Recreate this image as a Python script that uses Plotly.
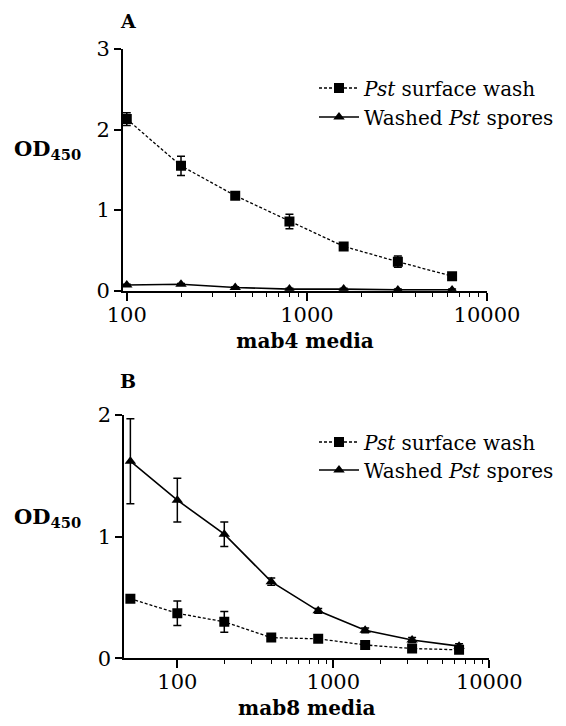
import plotly.graph_objects as go

# Dilutions of the culture media (x) and ELISA readings (OD450)
dil_a = [100, 200, 400, 800, 1600, 3200, 6400]
wash_a = [2.13, 1.55, 1.18, 0.86, 0.55, 0.36, 0.18]
wash_a_err = [0.08, 0.12, 0.03, 0.09, 0.03, 0.07, 0.02]
spores_a = [0.07, 0.08, 0.04, 0.02, 0.02, 0.01, 0.01]
spores_a_err = [0.01, 0.01, 0.01, 0.01, 0.01, 0.01, 0.01]

dil_b = [50, 100, 200, 400, 800, 1600, 3200, 6400]
wash_b = [0.49, 0.37, 0.30, 0.17, 0.16, 0.11, 0.08, 0.07]
wash_b_err = [0.02, 0.10, 0.085, 0.02, 0.02, 0.02, 0.02, 0.02]
spores_b = [1.62, 1.30, 1.02, 0.63, 0.39, 0.23, 0.15, 0.10]
spores_b_err = [0.35, 0.18, 0.10, 0.03, 0.02, 0.02, 0.02, 0.02]

x_major = [100, 1000, 10000]
x_minor = [200, 300, 400, 500, 600, 700, 800, 900,
           2000, 3000, 4000, 5000, 6000, 7000, 8000, 9000]

name_wash = "<i>Pst</i> surface wash"
name_spores = "Washed <i>Pst</i> spores"

FONT = "DejaVu Serif"
BLACK = "#000000"
TXT = 20

fig = go.Figure()


def add_pair(x, wash, wash_err, spores, spores_err, xa, ya, leg_w, leg_s):
    fig.add_trace(go.Scatter(
        x=x, y=wash, name=name_wash, mode="lines+markers",
        xaxis=xa, yaxis=ya, legend=leg_w,
        line=dict(color=BLACK, width=1.3, dash="3px,2px"),
        marker=dict(symbol="square", size=10, color=BLACK),
        error_y=dict(type="data", array=wash_err, visible=True,
                     color=BLACK, thickness=1.5, width=4),
    ))
    fig.add_trace(go.Scatter(
        x=x, y=spores, name=name_spores, mode="lines+markers",
        xaxis=xa, yaxis=ya, legend=leg_s,
        line=dict(color=BLACK, width=1.6),
        marker=dict(symbol="triangle-up", size=10, color=BLACK),
        error_y=dict(type="data", array=spores_err, visible=True,
                     color=BLACK, thickness=1.5, width=4),
    ))


add_pair(dil_a, wash_a, wash_a_err, spores_a, spores_a_err, "x", "y", "legend", "legend2")
add_pair(dil_b, wash_b, wash_b_err, spores_b, spores_b_err, "x2", "y2", "legend3", "legend4")

W, H = 566, 726


def px_x(p):
    return p / W


def px_y(p):
    return 1 - p / H


tick_font = dict(family=FONT, size=21, color=BLACK)
title_font = dict(family=FONT, size=TXT, color=BLACK, weight="bold")


def x_axis(domain, rng, anchor, title):
    return dict(
        type="log", domain=domain, range=rng, anchor=anchor,
        automargin=False,
        showline=True, linecolor=BLACK, linewidth=1.8,
        showgrid=False, zeroline=False,
        tickmode="array", tickvals=x_major,
        ticktext=[str(v) for v in x_major],
        ticks="outside", ticklen=8, tickwidth=1.5, tickcolor=BLACK,
        tickfont=tick_font, ticklabelstandoff=-4,
        minor=dict(tickmode="array", tickvals=x_minor, ticks="outside",
                   ticklen=4, tickwidth=1.3, tickcolor=BLACK, showgrid=False),
        title=dict(text=title, font=title_font, standoff=8),
    )


def y_axis(domain, rng, anchor, vals):
    return dict(
        domain=domain, range=rng, anchor=anchor,
        automargin=False,
        showline=True, linecolor=BLACK, linewidth=1.8,
        showgrid=False, zeroline=False,
        tickmode="array", tickvals=vals,
        ticks="outside", ticklen=7, tickwidth=1.5, tickcolor=BLACK,
        tickfont=tick_font,
    )


legend_style = dict(
    font=dict(family=FONT, size=TXT, color=BLACK),
    bgcolor="rgba(0,0,0,0)", borderwidth=0,
    xanchor="left", yanchor="middle", itemwidth=40,
)

fig.update_layout(
    width=W, height=H,
    margin=dict(l=0, r=0, t=0, b=0, autoexpand=False),
    paper_bgcolor="white", plot_bgcolor="white",
    font=dict(family=FONT, color=BLACK),
    xaxis=x_axis([px_x(123), px_x(487)], [1.979, 4.0], "y", "mab4 media"),
    yaxis=y_axis([px_y(290.7), px_y(49)], [0, 3], "x", [0, 1, 2, 3]),
    xaxis2=x_axis([px_x(124.3), px_x(489.3)], [1.66, 4.0], "y2", "mab8 media"),
    yaxis2=y_axis([px_y(658.3), px_y(415)], [0, 2], "x2", [0, 1, 2]),
    legend=dict(x=px_x(314), y=px_y(88), **legend_style),
    legend2=dict(x=px_x(314), y=px_y(117), **legend_style),
    legend3=dict(x=px_x(314), y=px_y(442), **legend_style),
    legend4=dict(x=px_x(314), y=px_y(470), **legend_style),
    showlegend=True,
)

# Panel letters and the OD450 labels
for letter, ypix in (("A", 21), ("B", 381)):
    fig.add_annotation(
        text="<b>%s</b>" % letter, x=px_x(128), y=px_y(ypix),
        xref="paper", yref="paper", showarrow=False,
        font=dict(family=FONT, size=19, color=BLACK),
        xanchor="center", yanchor="middle",
    )
for ypix in (150, 517):
    fig.add_annotation(
        text="<b>OD<sub>450</sub></b>", x=px_x(12), y=px_y(ypix),
        xref="paper", yref="paper", showarrow=False,
        font=dict(family=FONT, size=21, color=BLACK),
        xanchor="left", yanchor="middle",
    )

fig.write_html("out.html")
